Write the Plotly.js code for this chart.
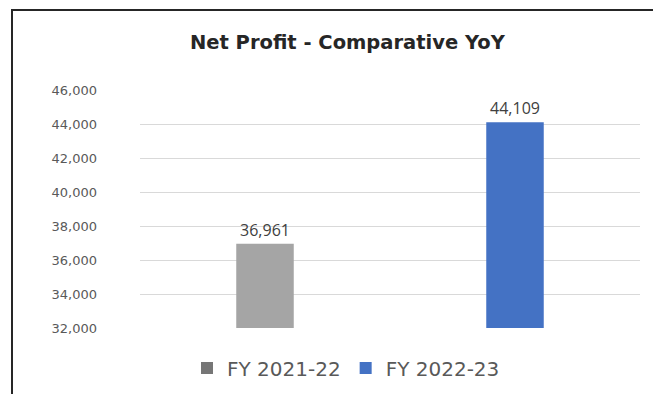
<!DOCTYPE html>
<html>
<head>
<meta charset="utf-8">
<script src="https://cdn.plot.ly/plotly-3.0.1.min.js"></script>
<style>
  html, body { margin: 0; padding: 0; width: 653px; height: 394px; overflow: hidden; background: #fff; }
  #chart { position: absolute; left: 0; top: 0; width: 653px; height: 394px; }
  #frame { position: absolute; left: 11px; top: 9px; width: 700px; height: 440px;
           border: 2px solid #262626; box-sizing: border-box; pointer-events: none; }
</style>
</head>
<body>
<div id="chart"></div>
<div id="frame"></div>
<script>
// Net profit by financial year
const years = ["FY 2021-22", "FY 2022-23"];
const netProfit = [36961, 44109];
const barColors = ["#a5a5a5", "#4472c4"];
const legendColors = ["#767676", "#4472c4"];
const yTicks = [32000, 34000, 36000, 38000, 40000, 42000, 44000, 46000];

const fmt = v => v.toLocaleString("en-US");

const traces = years.map((yr, i) => ({
  type: "bar",
  x: [yr],
  y: [netProfit[i]],
  name: yr,
  marker: { color: barColors[i] },
  text: [fmt(netProfit[i])],
  textposition: "outside",
  cliponaxis: false,
  textfont: { family: "Open Sans, sans-serif", size: 16, color: "#404040" },
  showlegend: false,
  hoverinfo: "x+y"
}));

// legend entries
years.forEach((yr, i) => {
  traces.push({
    type: "bar",
    x: [null],
    y: [null],
    name: yr,
    marker: { color: legendColors[i] },
    showlegend: true,
    hoverinfo: "skip"
  });
});

const layout = {
  width: 653,
  height: 394,
  margin: { l: 140, r: 13, t: 90, b: 66, autoexpand: false },
  paper_bgcolor: "#ffffff",
  plot_bgcolor: "#ffffff",
  barmode: "overlay",
  bargap: 0.77,
  title: {
    text: "<b>Net Profit - Comparative YoY</b>",
    font: { family: "DejaVu Sans, sans-serif", size: 19.5, color: "#262626" },
    x: 0.532, xanchor: "center", xref: "container",
    y: 0.893, yanchor: "middle", yref: "container"
  },
  xaxis: {
    type: "category",
    categoryorder: "array",
    categoryarray: years,
    showticklabels: false,
    showgrid: false,
    zeroline: false,
    showline: false,
    ticks: ""
  },
  yaxis: {
    range: [32000, 46000],
    tickvals: yTicks,
    ticktext: yTicks.map(fmt),
    showgrid: true,
    gridcolor: "#d9d9d9",
    gridwidth: 1,
    zeroline: false,
    showline: false,
    ticks: "",
    ticklabelstandoff: 42,
    tickfont: { family: "DejaVu Sans, sans-serif", size: 13, color: "#595959" }
  },
  showlegend: true,
  legend: {
    orientation: "h",
    x: 0.412, xanchor: "center", xref: "paper",
    y: 0.066, yanchor: "middle", yref: "container",
    font: { family: "DejaVu Sans, sans-serif", size: 20, color: "#595959" },
    itemwidth: 30,
    bgcolor: "rgba(0,0,0,0)"
  }
};

Plotly.newPlot("chart", traces, layout, { displayModeBar: false, staticPlot: true });
</script>
</body>
</html>
